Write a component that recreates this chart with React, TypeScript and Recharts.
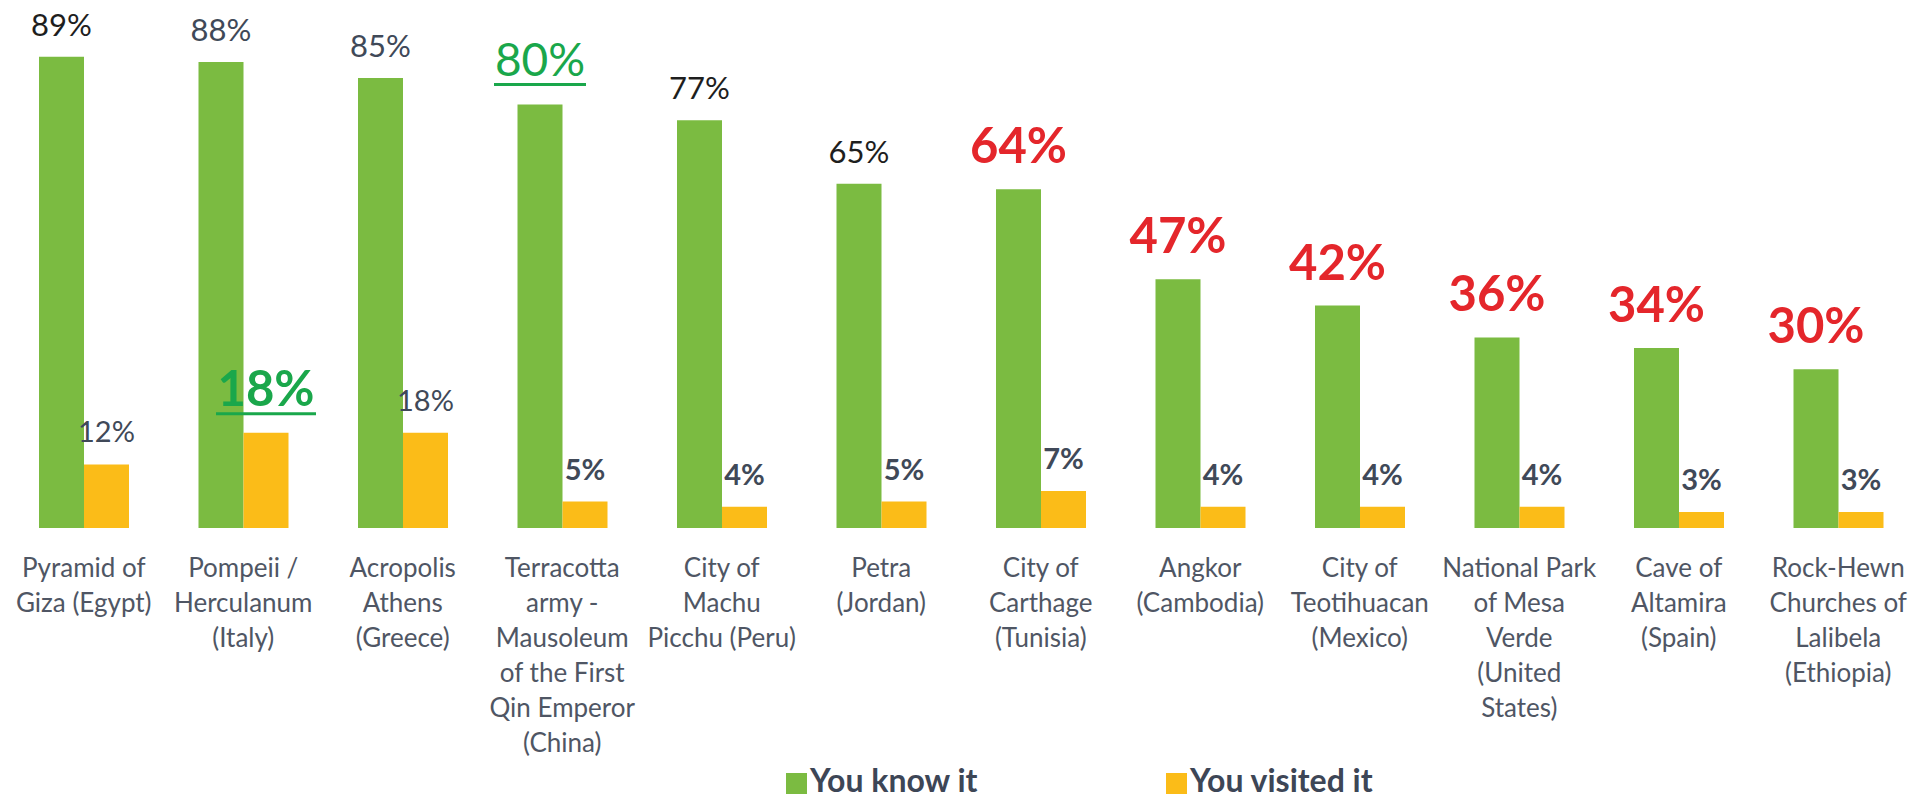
import { BarChart, Bar, XAxis, YAxis, LabelList, Legend } from "recharts";

const sites = [
  "Pyramid of\nGiza (Egypt)",
  "Pompeii /\nHerculanum\n(Italy)",
  "Acropolis\nAthens\n(Greece)",
  "Terracotta\narmy -\nMausoleum\nof the First\nQin Emperor\n(China)",
  "City of\nMachu\nPicchu (Peru)",
  "Petra\n(Jordan)",
  "City of\nCarthage\n(Tunisia)",
  "Angkor\n(Cambodia)",
  "City of\nTeotihuacan\n(Mexico)",
  "National Park\nof Mesa\nVerde\n(United\nStates)",
  "Cave of\nAltamira\n(Spain)",
  "Rock-Hewn\nChurches of\nLalibela\n(Ethiopia)",
];
const knowIt = [89, 88, 85, 80, 77, 65, 64, 47, 42, 36, 34, 30];
const visitedIt = [12, 18, 18, 5, 4, 5, 7, 4, 4, 4, 3, 3];

// how each value label is emphasised in the original slide
const knowLook = ["black", "slate", "slate", "greenBig", "black", "black", "red", "red", "red", "red", "red", "red"];
const visitedLook = ["small", "greenBold", "small", "smallBold", "smallBold", "smallBold", "smallBold", "smallBold", "smallBold", "smallBold", "smallBold", "smallBold"];

const data = sites.map((site, i) => ({ site, know: knowIt[i], visited: visitedIt[i] }));

const FONT = "Lato, 'Open Sans', sans-serif";
const GREEN = "#7bbb41";
const YELLOW = "#fbbc18";

type Look = { fill: string; size: number; weight: number; gap: number; underline?: number };
const LOOKS: Record<string, Look> = {
  black: { fill: "#1e1e1e", size: 31, weight: 400, gap: 21 },
  slate: { fill: "#404958", size: 31, weight: 400, gap: 21 },
  red: { fill: "#e4262b", size: 49, weight: 700, gap: 26 },
  greenBig: { fill: "#1aa74b", size: 46, weight: 400, gap: 28, underline: 46 },
  greenBold: { fill: "#1aa74b", size: 49, weight: 700, gap: 27, underline: 50 },
  small: { fill: "#404958", size: 29, weight: 400, gap: 22 },
  smallBold: { fill: "#404958", size: 29, weight: 700, gap: 22 },
};

const makeLabel = (looks: string[]) => (props: any) => {
  const { x, y, width, value, index } = props;
  const s = LOOKS[looks[index]];
  const cx = Number(x) + Number(width) / 2;
  const base = Number(y) - s.gap;
  return (
    <g>
      <text x={cx} y={base} textAnchor="middle" fill={s.fill} fontSize={s.size} fontWeight={s.weight} fontFamily={FONT}>
        {value}%
      </text>
      {s.underline && (
        <line x1={cx - s.underline} x2={cx + s.underline} y1={base + 8} y2={base + 8} stroke={s.fill} strokeWidth={3} />
      )}
    </g>
  );
};

const SiteTick = (props: any) => {
  const { x, y, payload } = props;
  const lines = String(payload.value).split("\n");
  return (
    <text x={x} y={y + 49} textAnchor="middle" fill="#4f5664" fontSize={26} fontFamily={FONT}>
      {lines.map((l, i) => (
        <tspan key={i} x={x} dy={i === 0 ? 0 : 35}>
          {l}
        </tspan>
      ))}
    </text>
  );
};

const LegendBox = () => (
  <div style={{ position: "relative", height: 28, fontFamily: FONT, fontWeight: 700, fontSize: 32, color: "#3d4656" }}>
    <div style={{ position: "absolute", left: 0, top: 5, width: 21, height: 21, background: GREEN }} />
    <div style={{ position: "absolute", left: 24, top: -7, lineHeight: "38px", whiteSpace: "nowrap" }}>You know it</div>
    <div style={{ position: "absolute", left: 380, top: 5, width: 21, height: 21, background: YELLOW }} />
    <div style={{ position: "absolute", left: 404, top: -7, lineHeight: "38px", whiteSpace: "nowrap" }}>You visited it</div>
  </div>
);

export default function App() {
  return (
    <div style={{ position: "absolute", left: 0, top: 0, width: 1919, height: 796, background: "#fff" }}>
      <BarChart width={1919} height={796} data={data} margin={{ top: 25, right: 1, bottom: 68, left: 4 }} barGap={0} barSize={45}>
        <XAxis dataKey="site" interval={0} height={200} axisLine={false} tickLine={false} tickSize={0} tickMargin={0} tick={<SiteTick />} />
        <YAxis hide domain={[0, 95]} />
        <Legend
          content={<LegendBox />}
          wrapperStyle={{ position: "absolute", left: 786, top: 768, width: 700, height: 0 }}
        />
        <Bar dataKey="know" fill={GREEN} isAnimationActive={false}>
          <LabelList dataKey="know" content={makeLabel(knowLook)} />
        </Bar>
        <Bar dataKey="visited" fill={YELLOW} isAnimationActive={false}>
          <LabelList dataKey="visited" content={makeLabel(visitedLook)} />
        </Bar>
      </BarChart>
    </div>
  );
}
